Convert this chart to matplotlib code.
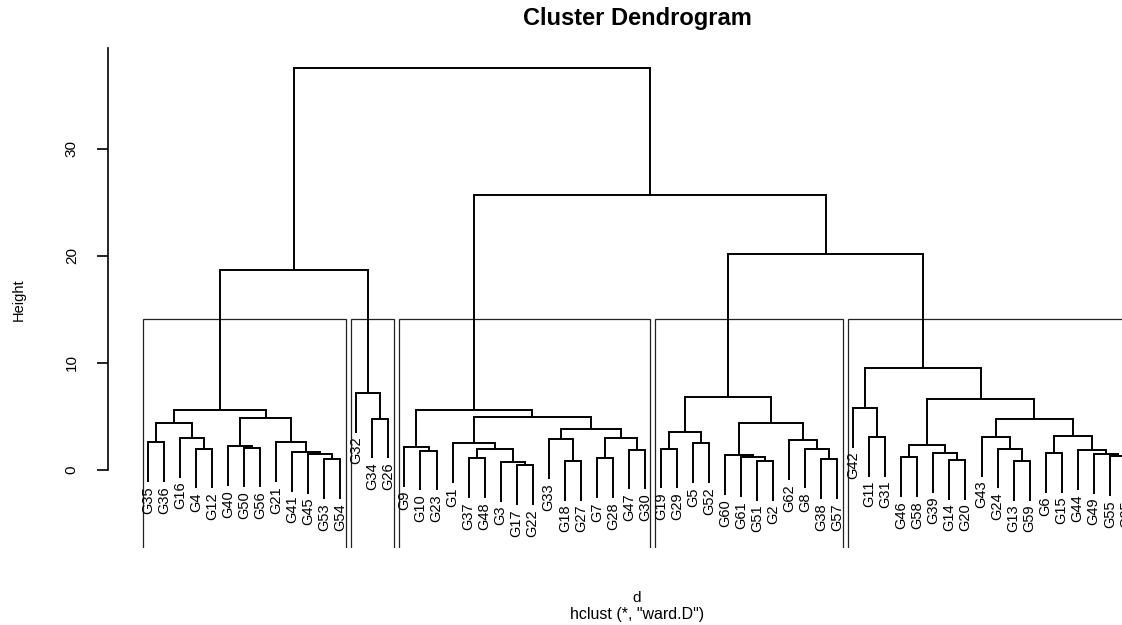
import matplotlib

matplotlib.use('Agg')  # Non-interactive backend
import matplotlib.pyplot as plt
from matplotlib.patches import Rectangle

plt.rcParams['font.family'] = ['Liberation Sans', 'DejaVu Sans']

# leaves in the order the dendrogram draws them
leaf_labels = [
    'G35', 'G36', 'G16', 'G4', 'G12', 'G40', 'G50', 'G56', 'G21', 'G41', 'G45', 'G53', 'G54',
    'G32', 'G34', 'G26',
    'G9', 'G10', 'G23', 'G1', 'G37', 'G48', 'G3', 'G17', 'G22', 'G33', 'G18', 'G27', 'G7',
    'G28', 'G47', 'G30',
    'G19', 'G29', 'G5', 'G52', 'G60', 'G61', 'G51', 'G2', 'G62', 'G8', 'G38', 'G57',
    'G42', 'G11', 'G31', 'G46', 'G58', 'G39', 'G14', 'G20', 'G43', 'G24', 'G13', 'G59',
    'G6', 'G15', 'G44', 'G49', 'G55', 'G25',
]

# hclust-style merge table: negative = leaf position (-1 is the first leaf),
# positive = earlier merge step (1-based)
merge_left = [
    -1, -4, -3, 1, -7, -6, -12, -11, -10, -9, 6, 4,
    -15, -14, 12,
    -18, -17, -21, -24, -23, 18, -20, -27, -26, -29, -31, 25, 24, 22, 17,
    -33, -35, 31, -39, -38, -37, -43, -42, -41, 36, 33,
    -46, -45, -48, -51, -50, 44, -55, -54, -53, -57, -61, -60, -59, 51, 50, 47, 43,
    41, 30, 15,
]
merge_right = [
    -2, -5, 2, 3, -8, 5, -13, 7, 8, 9, 10, 11,
    -16, 13, 14,
    -19, 16, -22, -25, 19, 20, 21, -28, 23, -30, -32, 26, 27, 28, 29,
    -34, -36, 32, -40, 34, 35, -44, 37, 38, 39, 40,
    -47, 42, -49, -52, 45, 46, -56, 48, 49, -58, -62, 52, 53, 54, 55, 56, 57,
    58, 59, 60,
]
merge_height = [
    2.6, 2.0, 3.0, 4.4, 2.1, 2.2, 1.0, 1.5, 1.7, 2.6, 4.9, 5.6,
    4.8, 7.2, 18.7,
    1.8, 2.15, 1.1, 0.45, 0.75, 2.0, 2.5, 0.85, 2.9, 1.1, 1.9, 3.0, 3.8, 4.95, 5.6,
    2.0, 2.5, 3.55, 0.85, 1.2, 1.4, 1.0, 2.0, 2.8, 4.4, 6.8,
    3.1, 5.8, 1.2, 0.95, 1.6, 2.35, 0.85, 2.0, 3.1, 1.6, 1.3, 1.5, 1.85, 3.2, 4.75, 6.6, 9.55,
    20.2, 25.7, 37.6,
]
n_groups = 5
hang = 0.1

n_leaves = len(leaf_labels)
h_range = max(merge_height) - min(merge_height)

fig = plt.figure(figsize=(11.22, 6.25), dpi=100)
# axes run past the right edge, as in the cropped reference
ax = fig.add_axes([108 / 1122, 77 / 625, 1092 / 1122, 506 / 625])
ax.set_xlim(-2.495, 65.63)
ax.set_ylim(-7.29, 40.0)

node_x = {}
node_leaves = {}


def child_info(c, parent_h):
    if c < 0:
        p = -c - 1
        return p, parent_h - hang * h_range, (p, p), True
    return node_x[c], merge_height[c - 1], node_leaves[c], False


for i, (a, b, h) in enumerate(zip(merge_left, merge_right, merge_height), start=1):
    xa, ya, la, leaf_a = child_info(a, h)
    xb, yb, lb, leaf_b = child_info(b, h)
    ax.plot([xa, xa, xb, xb], [ya, h, h, yb], color='black', lw=1.4,
            solid_joinstyle='miter', solid_capstyle='butt')
    for x, y, is_leaf in ((xa, ya, leaf_a), (xb, yb, leaf_b)):
        if is_leaf:
            ax.annotate(leaf_labels[int(x)], (x, y), xytext=(0, -3),
                        textcoords='offset points', rotation=90,
                        ha='center', va='top', fontsize=10.5)
    node_x[i] = (xa + xb) / 2
    node_leaves[i] = (min(la[0], lb[0]), max(la[1], lb[1]))

# rect.hclust style boxes around the k groups
sorted_h = sorted(merge_height, reverse=True)
cut = (sorted_h[n_groups - 2] + sorted_h[n_groups - 1]) / 2
groups = []
for i, (a, b, h) in enumerate(zip(merge_left, merge_right, merge_height), start=1):
    if h > cut:
        for c in (a, b):
            if c < 0:
                groups.append((-c - 1, -c - 1))
            elif merge_height[c - 1] < cut:
                groups.append(node_leaves[c])
y0 = ax.get_ylim()[0] - 1
for lo, hi in groups:
    ax.add_patch(Rectangle((lo - 0.34, y0), hi - lo + 0.67, cut - y0,
                           fill=False, edgecolor='#222222', lw=0.9))

for side in ['top', 'right', 'bottom']:
    ax.spines[side].set_visible(False)
ax.spines['left'].set_bounds(0, 39.4)
ax.spines['left'].set_linewidth(1.2)
ax.set_xticks([])
ax.set_yticks([0, 10, 20, 30])
ax.tick_params(axis='y', length=8, width=1.2, pad=13, labelsize=11, labelrotation=90)
for lab in ax.get_yticklabels():
    lab.set_va('center')

fig.text(637 / 1122, 1 - 19 / 625, 'Cluster Dendrogram', ha='center', va='center',
         fontsize=17, fontweight='bold')
fig.text(19 / 1122, 1 - 300 / 625, 'Height', rotation=90, ha='center', va='center',
         fontsize=10.5)
fig.text(637 / 1122, 1 - 598 / 625, 'd', ha='center', va='center', fontsize=11)
fig.text(637 / 1122, 1 - 614 / 625, 'hclust (*, "ward.D")', ha='center', va='center',
         fontsize=11.5)

plt.savefig('out.png', dpi=100)
plt.close()
